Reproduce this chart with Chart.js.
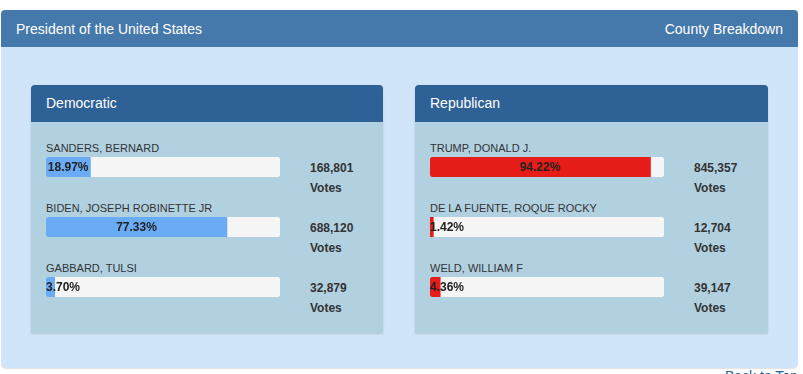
<!DOCTYPE html>
<html>
<head>
<meta charset="utf-8">
<script src="https://cdn.jsdelivr.net/npm/chart.js@4.4.0/dist/chart.umd.min.js"></script>
<style>
    body { margin: 0; background: #fff; font-family: Arial, "Liberation Sans", sans-serif; width: 803px; height: 374px; overflow: hidden; position: relative; }
    .wrap { position: absolute; left: 1px; top: 10px; width: 797px; }
    .top { height: 37px; background: #4679ab; border-radius: 4px 4px 0 0; color: #fff; font-size: 14px; display: flex; justify-content: space-between; align-items: center; padding: 0 15px 0 15px; box-sizing: border-box; }
    .main { position: relative; height: 321px; background: #d1e5fa; border-radius: 0 0 5px 5px; box-shadow: 0 1px 1px rgba(0,0,0,0.12); }
    .panel { position: absolute; top: 38px; height: 248px; background: #b1d1e1; box-shadow: 0 1px 2px rgba(0,0,0,0.15); border-radius: 4px 4px 0 0; }
    .panel .head { height: 37px; background: #2e6195; color: #fff; font-size: 14px; line-height: 37px; padding-left: 15px; border-radius: 4px 4px 0 0; }
    .name { position: absolute; font-size: 11px; color: #333; line-height: 13px; white-space: nowrap; }
    .votes { position: absolute; font-size: 12px; font-weight: bold; color: #333; line-height: 20px; }
    canvas.bar { position: absolute; }
    .back { position: absolute; left: 725px; top: 368px; font-size: 14px; color: #2a6496; }
</style>
</head>
<body>
<div class="wrap">
    <div class="top"><span>President of the United States</span><span>County Breakdown</span></div>
    <div class="main" id="main"></div>
</div>
<div class="back">Back to Top</div>

<script>
const parties = ["Democratic", "Republican"];
const partyColors = ["#6aabf5", "#e51c17"];

const demNames = ["SANDERS, BERNARD", "BIDEN, JOSEPH ROBINETTE JR", "GABBARD, TULSI"];
const demPct = [18.97, 77.33, 3.70];
const demVotes = [168801, 688120, 32879];

const repNames = ["TRUMP, DONALD J.", "DE LA FUENTE, ROQUE ROCKY", "WELD, WILLIAM F"];
const repPct = [94.22, 1.42, 4.36];
const repVotes = [845357, 12704, 39147];

const groups = [
    { names: demNames, pct: demPct, votes: demVotes },
    { names: repNames, pct: repPct, votes: repVotes }
];

/* draw the percentage text over the filled part */
const pctLabel = {
    id: "pctLabel",
    afterDatasetsDraw(c) {
        const bar = c.getDatasetMeta(0).data[0];
        const ctx = c.ctx;
        const txt = c.data.datasets[0].data[0].toFixed(2) + "%";
        ctx.save();
        ctx.font = "bold 12px Arial, 'Liberation Sans', sans-serif";
        ctx.fillStyle = "#222";
        ctx.textBaseline = "middle";
        const w = ctx.measureText(txt).width;
        const left = Math.min(bar.base, bar.x);
        const right = Math.max(bar.base, bar.x);
        let x = (left + right) / 2 - w / 2;
        if (x < left) x = left;
        ctx.fillText(txt, x, bar.y + 1);
        ctx.restore();
    }
};

function drawBar(canvas, value, color) {
    return new Chart(canvas.getContext("2d"), {
        type: "bar",
        data: {
            labels: [""],
            datasets: [
                {
                    data: [value],
                    backgroundColor: color,
                    borderSkipped: false,
                    borderRadius: { topLeft: 4, bottomLeft: 4, topRight: 0, bottomRight: 0 },
                    order: 0
                },
                {
                    data: [100],
                    backgroundColor: "#f5f5f5",
                    borderSkipped: false,
                    borderRadius: 4,
                    order: 1
                }
            ]
        },
        options: {
            indexAxis: "y",
            responsive: false,
            animation: false,
            grouped: false,
            barPercentage: 1,
            categoryPercentage: 1,
            layout: { padding: 0 },
            plugins: { legend: { display: false }, tooltip: { enabled: false } },
            scales: {
                x: { display: false, min: 0, max: 100 },
                y: { display: false }
            }
        },
        plugins: [pctLabel]
    });
}

const main = document.getElementById("main");
const panelLeft = [30, 414];
const panelWidth = [352, 353];

groups.forEach((g, p) => {
    const panel = document.createElement("div");
    panel.className = "panel";
    panel.style.left = panelLeft[p] + "px";
    panel.style.width = panelWidth[p] + "px";
    panel.innerHTML = `<div class="head">${parties[p]}</div>`;
    main.appendChild(panel);

    g.names.forEach((n, i) => {
        const rowTop = 56 + i * 60;
        const name = document.createElement("div");
        name.className = "name";
        name.style.left = "15px";
        name.style.top = (rowTop + 1) + "px";
        name.textContent = n;
        panel.appendChild(name);

        const cv = document.createElement("canvas");
        cv.className = "bar";
        cv.width = 234;
        cv.height = 20;
        cv.style.left = "15px";
        cv.style.top = (rowTop + 16) + "px";
        panel.appendChild(cv);
        drawBar(cv, g.pct[i], partyColors[p]);

        const v = document.createElement("div");
        v.className = "votes";
        v.style.left = "279px";
        v.style.top = (rowTop + 17) + "px";
        v.innerHTML = g.votes[i].toLocaleString("en-US") + "<br>Votes";
        panel.appendChild(v);
    });
});
</script>
</body>
</html>
